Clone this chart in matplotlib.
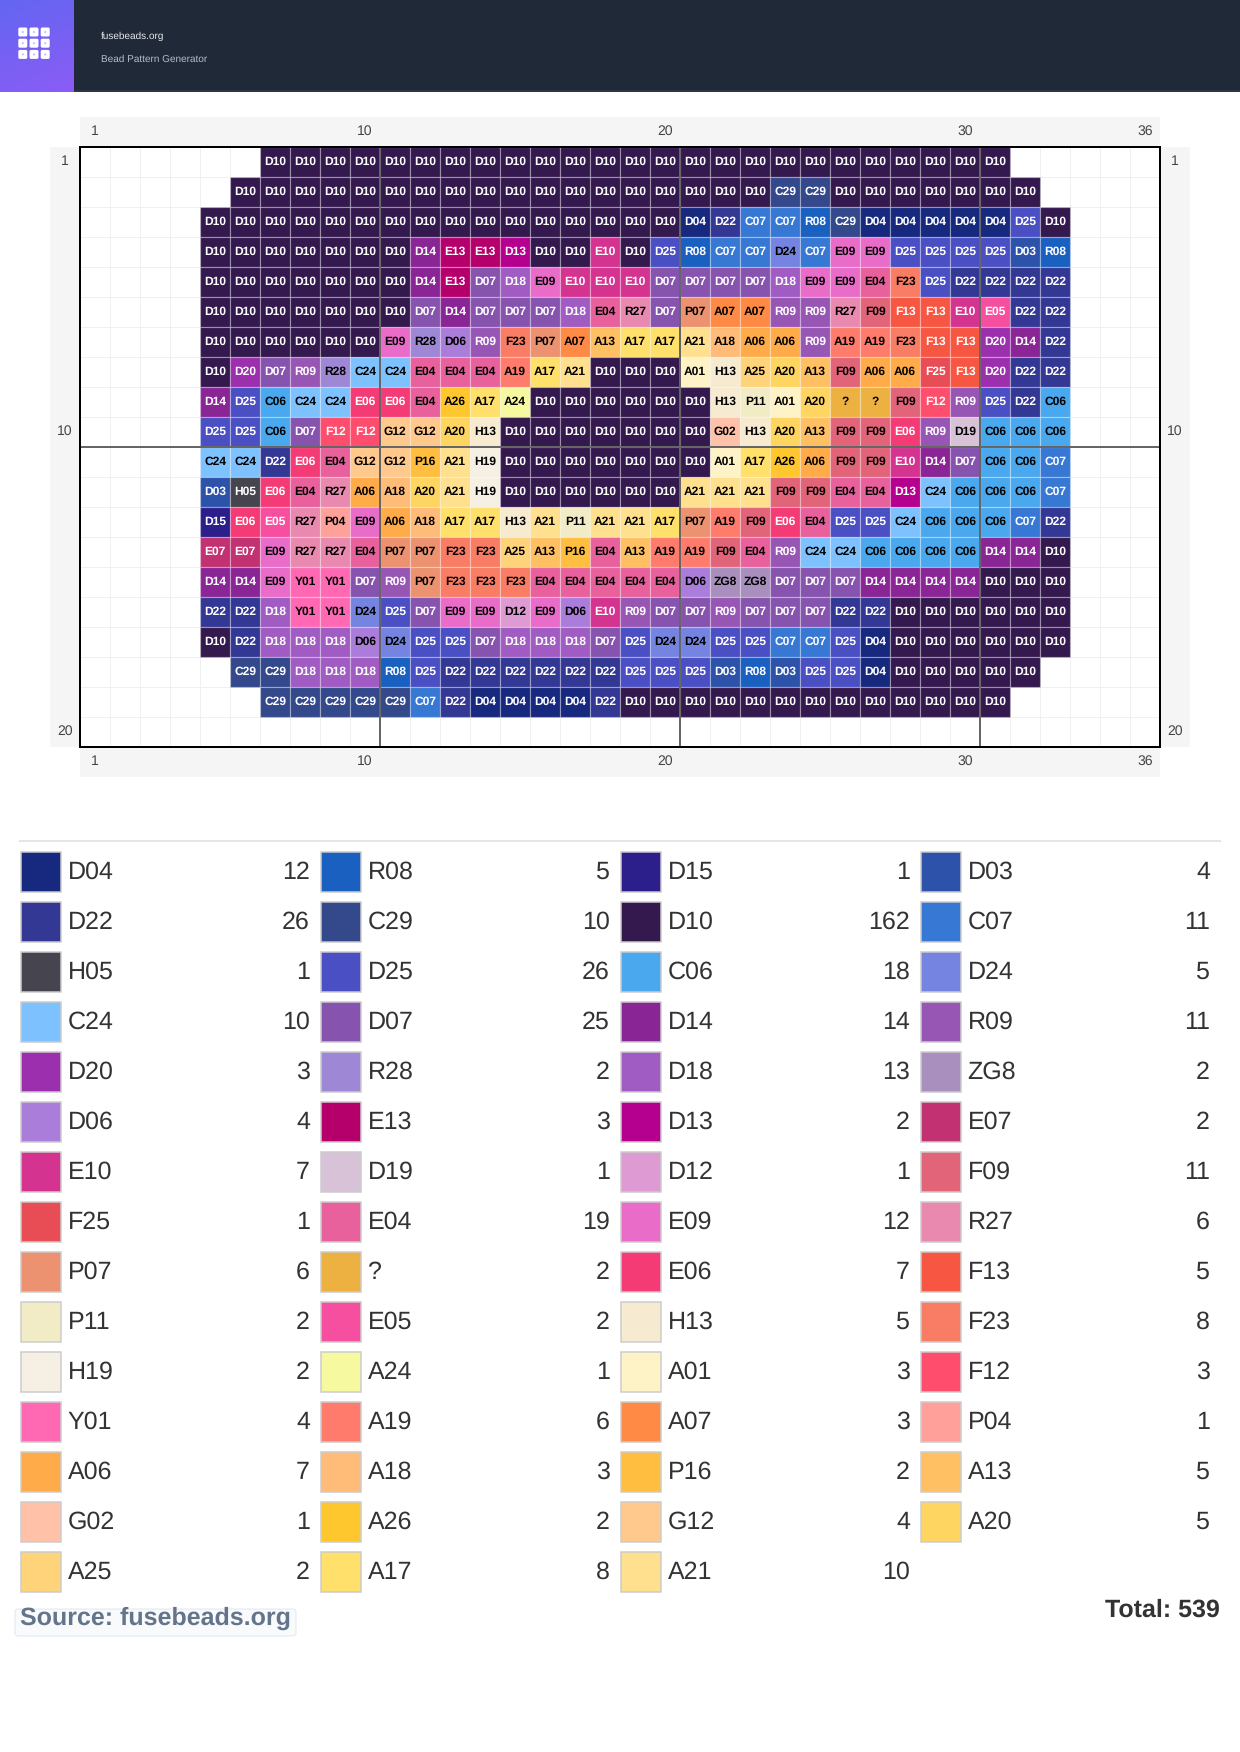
import numpy as np
import matplotlib
matplotlib.use('Agg')
import matplotlib.pyplot as plt
from matplotlib.patches import Rectangle, FancyBboxPatch, Circle

plt.rcParams['font.family'] = ['Liberation Sans', 'DejaVu Sans']
plt.rcParams['text.hinting'] = 'no_hinting'

# first occupied column (1-based) of each pattern row
row_starts = [7, 6, 5, 5, 5, 5, 5, 5, 5, 5, 5, 5, 5, 5, 5, 5, 5, 6, 7]

row_01 = 'D10 D10 D10 D10 D10 D10 D10 D10 D10 D10 D10 D10 D10 D10 D10 D10 D10 D10 D10 D10 D10 D10 D10 D10 D10'
row_02 = 'D10 D10 D10 D10 D10 D10 D10 D10 D10 D10 D10 D10 D10 D10 D10 D10 D10 D10 C29 C29 D10 D10 D10 D10 D10 D10 D10'
row_03 = 'D10 D10 D10 D10 D10 D10 D10 D10 D10 D10 D10 D10 D10 D10 D10 D10 D04 D22 C07 C07 R08 C29 D04 D04 D04 D04 D04 D25 D10'
row_04 = 'D10 D10 D10 D10 D10 D10 D10 D14 E13 E13 D13 D10 D10 E10 D10 D25 R08 C07 C07 D24 C07 E09 E09 D25 D25 D25 D25 D03 R08'
row_05 = 'D10 D10 D10 D10 D10 D10 D10 D14 E13 D07 D18 E09 E10 E10 E10 D07 D07 D07 D07 D18 E09 E09 E04 F23 D25 D22 D22 D22 D22'
row_06 = 'D10 D10 D10 D10 D10 D10 D10 D07 D14 D07 D07 D07 D18 E04 R27 D07 P07 A07 A07 R09 R09 R27 F09 F13 F13 E10 E05 D22 D22'
row_07 = 'D10 D10 D10 D10 D10 D10 E09 R28 D06 R09 F23 P07 A07 A13 A17 A17 A21 A18 A06 A06 R09 A19 A19 F23 F13 F13 D20 D14 D22'
row_08 = 'D10 D20 D07 R09 R28 C24 C24 E04 E04 E04 A19 A17 A21 D10 D10 D10 A01 H13 A25 A20 A13 F09 A06 A06 F25 F13 D20 D22 D22'
row_09 = 'D14 D25 C06 C24 C24 E06 E06 E04 A26 A17 A24 D10 D10 D10 D10 D10 D10 H13 P11 A01 A20 ? ? F09 F12 R09 D25 D22 C06'
row_10 = 'D25 D25 C06 D07 F12 F12 G12 G12 A20 H13 D10 D10 D10 D10 D10 D10 D10 G02 H13 A20 A13 F09 F09 E06 R09 D19 C06 C06 C06'
row_11 = 'C24 C24 D22 E06 E04 G12 G12 P16 A21 H19 D10 D10 D10 D10 D10 D10 D10 A01 A17 A26 A06 F09 F09 E10 D14 D07 C06 C06 C07'
row_12 = 'D03 H05 E06 E04 R27 A06 A18 A20 A21 H19 D10 D10 D10 D10 D10 D10 A21 A21 A21 F09 F09 E04 E04 D13 C24 C06 C06 C06 C07'
row_13 = 'D15 E06 E05 R27 P04 E09 A06 A18 A17 A17 H13 A21 P11 A21 A21 A17 P07 A19 F09 E06 E04 D25 D25 C24 C06 C06 C06 C07 D22'
row_14 = 'E07 E07 E09 R27 R27 E04 P07 P07 F23 F23 A25 A13 P16 E04 A13 A19 A19 F09 E04 R09 C24 C24 C06 C06 C06 C06 D14 D14 D10'
row_15 = 'D14 D14 E09 Y01 Y01 D07 R09 P07 F23 F23 F23 E04 E04 E04 E04 E04 D06 ZG8 ZG8 D07 D07 D07 D14 D14 D14 D14 D10 D10 D10'
row_16 = 'D22 D22 D18 Y01 Y01 D24 D25 D07 E09 E09 D12 E09 D06 E10 R09 D07 D07 R09 D07 D07 D07 D22 D22 D10 D10 D10 D10 D10 D10'
row_17 = 'D10 D22 D18 D18 D18 D06 D24 D25 D25 D07 D18 D18 D18 D07 D25 D24 D24 D25 D25 C07 C07 D25 D04 D10 D10 D10 D10 D10 D10'
row_18 = 'C29 C29 D18 D18 D18 R08 D25 D22 D22 D22 D22 D22 D22 D25 D25 D25 D03 R08 D03 D25 D25 D04 D10 D10 D10 D10 D10'
row_19 = 'C29 C29 C29 C29 C29 C07 D22 D04 D04 D04 D04 D22 D10 D10 D10 D10 D10 D10 D10 D10 D10 D10 D10 D10 D10'
pattern = [row_01, row_02, row_03, row_04, row_05, row_06, row_07, row_08, row_09, row_10,
           row_11, row_12, row_13, row_14, row_15, row_16, row_17, row_18, row_19]

# legend, read left to right, top to bottom
legend_codes = ['D04', 'R08', 'D15', 'D03', 'D22', 'C29', 'D10', 'C07', 'H05', 'D25', 'C06', 'D24',
                'C24', 'D07', 'D14', 'R09', 'D20', 'R28', 'D18', 'ZG8', 'D06', 'E13', 'D13', 'E07',
                'E10', 'D19', 'D12', 'F09', 'F25', 'E04', 'E09', 'R27', 'P07', '?', 'E06', 'F13',
                'P11', 'E05', 'H13', 'F23', 'H19', 'A24', 'A01', 'F12', 'Y01', 'A19', 'A07', 'P04',
                'A06', 'A18', 'P16', 'A13', 'G02', 'A26', 'G12', 'A20', 'A25', 'A17', 'A21']
legend_counts = [12, 5, 1, 4, 26, 10, 162, 11, 1, 26, 18, 5,
                 10, 25, 14, 11, 3, 2, 13, 2, 4, 3, 2, 2,
                 7, 1, 1, 11, 1, 19, 12, 6, 6, 2, 7, 5,
                 2, 2, 5, 8, 2, 1, 3, 3, 4, 6, 3, 1,
                 7, 3, 2, 5, 1, 2, 4, 5, 2, 8, 10]
legend_colors = ['#17297f', '#1a60c1', '#2c1f8b', '#2c52aa', '#333894', '#34488c', '#34194f', '#3678d4',
                 '#46454f', '#4a4fc4', '#4aa8ee', '#7584e0', '#7dc2ff', '#8654ae', '#8a2596', '#9856b4',
                 '#9c2fad', '#9e87d4', '#a05cc2', '#a98fbd', '#ab7ddb', '#b5006c', '#b5008f', '#c23172',
                 '#d4348f', '#d8c2d8', '#de9ad3', '#e16479', '#e84c55', '#e8619c', '#e96cc9', '#ea89b0',
                 '#ec9270', '#edb142', '#f53b75', '#f75642', '#f2ecc6', '#f64fa0', '#f6ebd0', '#f97c64',
                 '#f6efe3', '#f6f9a0', '#fdf3c6', '#ff4d6d', '#ff69b4', '#ff7b6c', '#ff8a45', '#ffa19a',
                 '#ffab4a', '#ffbb78', '#ffbe3f', '#ffc064', '#ffc2a8', '#ffc72e', '#ffc88c', '#ffd562',
                 '#ffd37a', '#ffe06a', '#ffe08f']
light_text = ['D04', 'R08', 'D15', 'D03', 'D22', 'C29', 'D10', 'C07', 'H05', 'D25', 'D07', 'D14',
              'R09', 'D20', 'D18', 'E13', 'D13', 'E07', 'E10', 'F25', 'E06', 'F13', 'E05', 'F12']

col_labels = [1, 10, 20, 30, 36]
row_labels = [1, 10, 20]
total_text = 'Total: 539'
source_text = 'Source: fusebeads.org'
title_text = 'fusebeads.org'
subtitle_text = 'Bead Pattern Generator'

color_of = dict(zip(legend_codes, legend_colors))
W, H = 1240, 1752
px = 0.72  # font px to pt at dpi 100

fig = plt.figure(figsize=(12.4, 17.52), dpi=100)

# page axes in pixels, for header, bands and legend
page = fig.add_axes([0, 0, 1, 1])
page.set_xlim(0, W)
page.set_ylim(H, 0)
page.axis('off')

# header
page.add_patch(Rectangle((0, 0), W, 92, fc='#1f2937', ec='none'))
page.add_patch(Rectangle((0, 90), W, 2, fc='#2b3645', ec='none'))
grad = np.linspace(0, 1, 64)[:, None] * 0.75 + np.linspace(0, 1, 64)[None, :] * 0.25
page.imshow(grad, extent=(0, 73.5, 92, 0), cmap=matplotlib.colors.LinearSegmentedColormap.from_list('g', ['#6366f1', '#8b5cf6']),
            aspect='auto', zorder=1)
page.set_xlim(0, W)
page.set_ylim(H, 0)
for i in range(3):
    for j in range(3):
        cx, cy = 22.8 + j * 11.2, 32 + i * 11.2
        page.add_patch(FancyBboxPatch((cx - 3.2, cy - 3.2), 6.4, 6.4, boxstyle='round,pad=1.3,rounding_size=1.6',
                                      fc='white', ec='none', zorder=2))
        page.add_patch(Circle((cx, cy), 1.1, fc='#c9c4f5', ec='none', zorder=3))
page.text(101, 36, title_text, fontsize=10 * px, color='#e5e7eb', va='center', ha='left')
page.text(101, 59, subtitle_text, fontsize=10 * px, color='#b6bcc6', va='center', ha='left')

# label bands around the grid
band = '#f5f5f5'
page.add_patch(Rectangle((80, 117), 1080, 30, fc=band, ec='none'))
page.add_patch(Rectangle((80, 747), 1080, 30, fc=band, ec='none'))
page.add_patch(Rectangle((50, 147), 30, 600, fc=band, ec='none'))
page.add_patch(Rectangle((1160, 147), 30, 600, fc=band, ec='none'))
for c in col_labels:
    x = 80 + (c - 0.5) * 30
    page.text(x, 131, str(c), fontsize=14 * px, color='#444444', ha='center', va='center')
    page.text(x, 761.5, str(c), fontsize=14 * px, color='#444444', ha='center', va='center')
for r in row_labels:
    y = 146.5 + (r - 0.5) * 30
    page.text(65, y, str(r), fontsize=14 * px, color='#444444', ha='center', va='center')
    page.text(1175, y, str(r), fontsize=14 * px, color='#444444', ha='center', va='center')

# bead grid
ax = fig.add_axes([80.2 / W, 1 - 747.2 / H, 1080 / W, 600 / H])
ax.set_xlim(0, 36)
ax.set_ylim(20, 0)
ax.set_xticks([])
ax.set_yticks([])
for s in ax.spines.values():
    s.set_linewidth(2 * px)
    s.set_color('black')
    s.set_zorder(10)
for x in range(1, 36):
    ax.axvline(x, color='#f0f0f0', lw=1 * px, zorder=1)
for y in range(1, 20):
    ax.axhline(y, color='#f0f0f0', lw=1 * px, zorder=1)
for r, (start, line) in enumerate(zip(row_starts, pattern)):
    for k, code in enumerate(line.split()):
        c = start - 1 + k
        ax.add_patch(Rectangle((c, r), 1, 1, fc=color_of[code], ec=(1, 1, 1, 0.3), lw=1.2 * px, zorder=2))
        ax.text(c + 0.5, r + 0.48, code, fontsize=12 * px, fontweight='bold', ha='center', va='center',
                color='white' if code in light_text else 'black', zorder=3)
for x in [10, 20, 30]:
    ax.axvline(x, color='#666666', lw=2 * px, zorder=4)
ax.axhline(10, color='#666666', lw=2 * px, zorder=4)

# legend
page.plot([20, 1220], [841, 841], color='#e5e5e5', lw=2 * px)
for i, (code, count) in enumerate(zip(legend_codes, legend_counts)):
    row, col = divmod(i, 4)
    x0 = 20 + col * 300
    y0 = 851 + row * 50
    page.add_patch(Rectangle((x0 + 0.75, y0 + 0.75), 40.5, 40.5, fc=color_of[code], ec='#cccccc', lw=1.5 * px))
    page.text(x0 + 47.5, y0 + 21.2, code, fontsize=25 * px, color='#333333', ha='left', va='center')
    page.text(x0 + 290, y0 + 21.2, str(count), fontsize=25 * px, color='#333333', ha='right', va='center')

# footer
page.add_patch(FancyBboxPatch((17, 1611), 277, 23, boxstyle='round,pad=2,rounding_size=3', fc='#f8fafc', ec='#e2e8f0', lw=1 * px))
page.text(20, 1618, source_text, fontsize=25 * px, fontweight='bold', color='#64748b', ha='left', va='center')
page.text(1220, 1610, total_text, fontsize=25 * px, fontweight='bold', color='#333333', ha='right', va='center')

fig.savefig('out.png', dpi=100)
